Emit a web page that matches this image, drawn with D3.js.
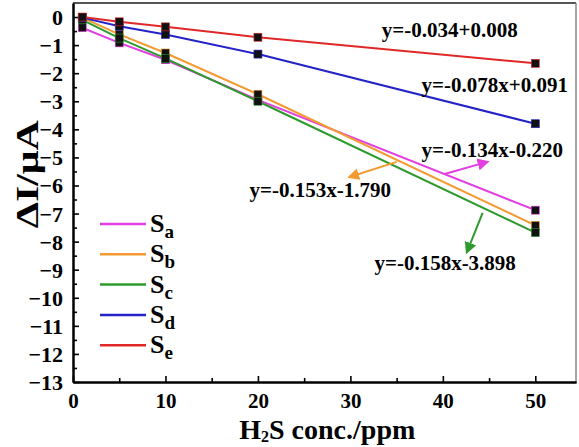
<!DOCTYPE html>
<html>
<head>
<meta charset="utf-8">
<script src="https://cdn.jsdelivr.net/npm/d3@7"></script>
<style>
  body { margin: 0; background: #fff; }
  svg text { font-family: "Liberation Serif", "Times New Roman", serif; font-weight: bold; fill: #000; }
</style>
</head>
<body>
<div id="chart"></div>
<script>
// concentrations (ppm)
var concs = [1, 5, 10, 20, 50];

var seriesNames = ["a", "b", "c", "d", "e"];
var seriesColors = ["#e23ee2", "#f39a32", "#2e9a2e", "#2323c8", "#e02828"];

var sA = [-0.38, -0.92, -1.52, -2.95, -6.88];
var sB = [-0.02, -0.62, -1.28, -2.75, -7.42];
var sC = [-0.10, -0.75, -1.47, -3.00, -7.68];
var sD = [-0.02, -0.33, -0.62, -1.32, -3.80];
var sE = [0.00, -0.17, -0.35, -0.72, -1.65];
var allSeries = [sA, sB, sC, sD, sE];

var xTicks = [0, 10, 20, 30, 40, 50];
var yTicks = d3.range(0, -14, -1);

// fitted equation labels (in data coords) and their arrows
var eqTexts = ["y=-0.134x-0.220", "y=-0.153x-1.790", "y=-0.158x-3.898", "y=-0.078x+0.091", "y=-0.034+0.008"];
var eqPos = [[37.7, -4.99], [19.1, -6.41], [32.6, -9.01], [37.7, -2.67], [33.4, -0.71]];
var arrows = [
    {s: 0, from: [40.2, -5.59], to: [44.8, -5.16]},
    {s: 1, from: [35.0, -5.16], to: [29.9, -5.70]},
    {s: 2, from: [44.3, -6.98], to: [42.6, -8.37]}
];

var svg = d3.select("#chart").append("svg").attr("width", 579).attr("height", 447),
    margin = {top: 3, right: 3, bottom: 65, left: 73},
    width = 579 - margin.left - margin.right,
    height = 447 - margin.top - margin.bottom,
    g = svg.append("g").attr("transform", "translate(" + margin.left + "," + margin.top + ")");

var x = d3.scaleLinear().domain([0, 54.4]).range([0, width]),
    y = d3.scaleLinear().domain([-13, 0.5]).range([height, 0]);

var defs = svg.append("defs");
seriesColors.forEach(function(c, i) {
    defs.append("marker")
        .attr("id", "arr" + i)
        .attr("viewBox", "0 0 10 10")
        .attr("refX", 8).attr("refY", 5)
        .attr("markerWidth", 6).attr("markerHeight", 6)
        .attr("orient", "auto")
        .append("path")
        .attr("d", "M0,0L10,5L0,10z")
        .attr("fill", c);
});

// frame (top + right)
g.append("line").attr("x1", 0).attr("x2", width).attr("y1", 0).attr("y2", 0)
    .attr("stroke", "#555").attr("stroke-width", 2);
g.append("line").attr("x1", width).attr("x2", width).attr("y1", 0).attr("y2", height)
    .attr("stroke", "#888").attr("stroke-width", 1.5);

// axes
var xAxis = g.append("g")
    .attr("transform", "translate(0," + height + ")")
    .call(d3.axisBottom(x).tickValues(xTicks).tickSizeInner(-6).tickSizeOuter(0).tickPadding(11).tickFormat(d3.format("d")));
g.append("g")
    .attr("transform", "translate(0," + height + ")")
    .call(d3.axisBottom(x).tickValues([5, 15, 25, 35, 45]).tickSizeInner(-4).tickSizeOuter(0).tickFormat(""));

var yAxis = g.append("g")
    .call(d3.axisLeft(y).tickValues(yTicks).tickSizeInner(-6).tickSizeOuter(0).tickPadding(10).tickFormat(d3.format("d")));
g.append("g")
    .call(d3.axisLeft(y).tickValues(d3.range(-12.5, 0.5, 1)).tickSizeInner(-4).tickSizeOuter(0).tickFormat(""));

g.selectAll(".domain").attr("stroke", "#000").attr("stroke-width", 2);
g.selectAll(".tick line").attr("stroke", "#000").attr("stroke-width", 1.6);
xAxis.selectAll("text").style("font-size", "21px");
yAxis.selectAll("text").style("font-size", "22px").attr("dy", "0.34em");

// lines
var line = d3.line()
    .x(function(d, i) { return x(concs[i]); })
    .y(function(d) { return y(d); });

g.selectAll(".series")
    .data(allSeries)
    .enter()
    .append("path")
    .attr("class", "series")
    .attr("d", function(d) { return line(d); })
    .style("stroke", function(d, i) { return seriesColors[i]; })
    .style("stroke-width", 2)
    .style("fill", "none");

// markers
allSeries.forEach(function(s, si) {
    g.selectAll(".pt" + si)
        .data(s)
        .enter()
        .append("rect")
        .attr("x", function(d, i) { return x(concs[i]) - 4; })
        .attr("y", function(d) { return y(d) - 4; })
        .attr("width", 8).attr("height", 8)
        .attr("fill", "#111")
        .attr("stroke", seriesColors[si])
        .attr("stroke-width", 0.6);
});

// equation labels
g.selectAll(".eq")
    .data(eqTexts)
    .enter()
    .append("text")
    .attr("x", function(d, i) { return x(eqPos[i][0]); })
    .attr("y", function(d, i) { return y(eqPos[i][1]); })
    .style("font-size", "21px")
    .text(function(d) { return d; });

g.selectAll(".arrow")
    .data(arrows)
    .enter()
    .append("line")
    .attr("x1", function(d) { return x(d.from[0]); })
    .attr("y1", function(d) { return y(d.from[1]); })
    .attr("x2", function(d) { return x(d.to[0]); })
    .attr("y2", function(d) { return y(d.to[1]); })
    .attr("stroke", function(d) { return seriesColors[d.s]; })
    .attr("stroke-width", 2)
    .attr("marker-end", function(d) { return "url(#arr" + d.s + ")"; });

// legend
var legend = g.append("g").attr("transform", "translate(27,221)");
var items = legend.selectAll(".item")
    .data(seriesNames)
    .enter()
    .append("g")
    .attr("transform", function(d, i) { return "translate(0," + (i * 30.3) + ")"; });
items.append("line")
    .attr("x1", 0).attr("x2", 46)
    .attr("stroke", function(d, i) { return seriesColors[i]; })
    .attr("stroke-width", 2.5);
var lt = items.append("text")
    .attr("x", 50).attr("y", 8)
    .style("font-size", "26px");
lt.append("tspan").text("S");
lt.append("tspan").attr("dy", 6).style("font-size", "19px").text(function(d) { return d; });

// axis titles
var xt = svg.append("text")
    .attr("x", margin.left + x(27.5))
    .attr("y", 439)
    .attr("text-anchor", "middle")
    .style("font-size", "28px");
xt.append("tspan").text("H");
xt.append("tspan").attr("dy", 3).style("font-size", "16px").text("2");
xt.append("tspan").attr("dy", -3).text("S conc./ppm");

svg.append("text")
    .attr("transform", "translate(38," + (margin.top + y(-5.6)) + ") rotate(-90)")
    .attr("text-anchor", "middle")
    .attr("textLength", 108)
    .attr("lengthAdjust", "spacingAndGlyphs")
    .style("font-size", "32px")
    .text("ΔI/μA");
</script>
</body>
</html>
